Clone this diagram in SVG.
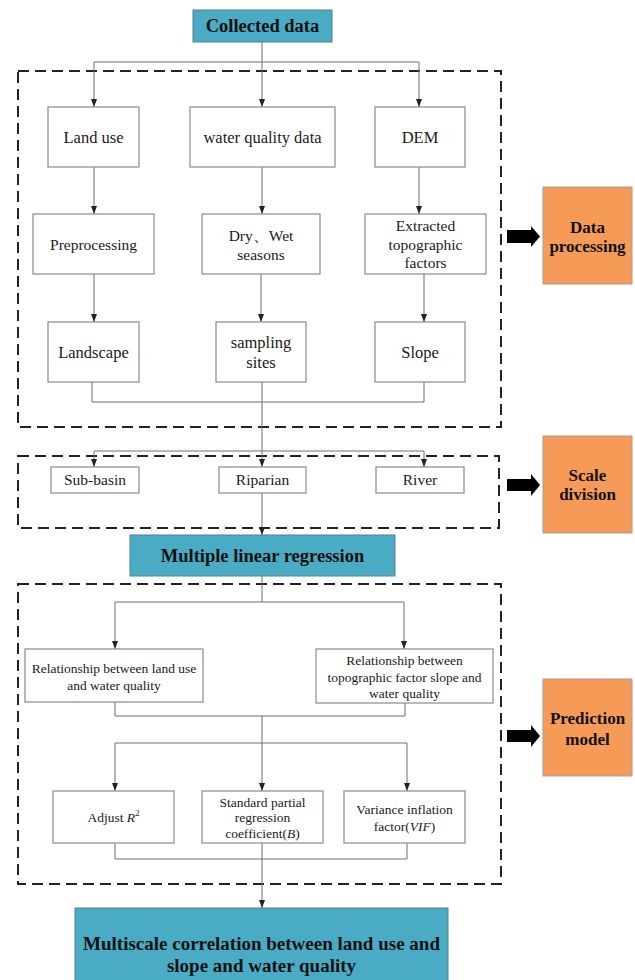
<svg xmlns="http://www.w3.org/2000/svg" width="635" height="980" viewBox="0 0 635 980">
<defs>
<marker id="ah" viewBox="0 0 8 6" refX="8" refY="3" markerWidth="8" markerHeight="6" markerUnits="userSpaceOnUse" orient="auto">
<path d="M0,0 L8,3 L0,6 z" fill="#222"/>
</marker>
<style>
.box{fill:#fff;stroke:#8a8a8a;stroke-width:1.2}
.teal{fill:#4aabc5;stroke:#5a7f8c;stroke-width:1}
.orange{fill:#f59b57;stroke:#a0a0a0;stroke-width:1}
.dash{fill:none;stroke:#222;stroke-width:2;stroke-dasharray:11,6}
.ln{fill:none;stroke:#6e6e6e;stroke-width:1}
.ar{marker-end:url(#ah)}
.t{font-family:"Liberation Serif","Times New Roman",serif;fill:#1a1a1a;text-anchor:middle}
.n16{font-size:16.5px}
.n15{font-size:15.5px}
.n13{font-size:13.5px}
.b{font-weight:bold;fill:#111}
.blk{fill:#000}
</style>
</defs>

<g id="dashed-frames">
<rect class="dash" x="18" y="71" width="483" height="356"/>
<rect class="dash" x="18" y="456" width="481" height="72"/>
<rect class="dash" x="18" y="584" width="483" height="300"/>
</g>

<g id="connectors">
<path class="ln" d="M262,42 V62 M94,62 H419"/>
<path class="ln ar" d="M94,62 V107"/>
<path class="ln ar" d="M262,62 V107"/>
<path class="ln ar" d="M419,62 V107"/>
<path class="ln ar" d="M94,167 V214"/>
<path class="ln ar" d="M262,167 V214"/>
<path class="ln ar" d="M419,167 V214"/>
<path class="ln ar" d="M94,274 V322"/>
<path class="ln ar" d="M261,274 V322"/>
<path class="ln ar" d="M424,274 V322"/>
<path class="ln" d="M92,382 V402 H424 V382"/>
<path class="ln" d="M262,382 V451 M94,451 H424"/>
<path class="ln ar" d="M94,451 V467"/>
<path class="ln ar" d="M262,451 V467"/>
<path class="ln ar" d="M424,451 V467"/>
<path class="ln ar" d="M262,493 V535"/>
<path class="ln" d="M262,576 V602 M115,602 H404"/>
<path class="ln ar" d="M115,602 V649"/>
<path class="ln ar" d="M404,602 V649"/>
<path class="ln" d="M115,702 V716 H405 V703"/>
<path class="ln" d="M262,716 V743 M115,743 H407"/>
<path class="ln ar" d="M115,743 V791"/>
<path class="ln ar" d="M262,743 V791"/>
<path class="ln ar" d="M407,743 V791"/>
<path class="ln" d="M115,843 V859 H407 V843"/>
<path class="ln ar" d="M262,843 V908"/>
</g>

<g id="collected-data">
<rect class="teal" x="193" y="10" width="139" height="32"/>
<text class="t b" x="262.5" y="32" font-size="18.5">Collected data</text>
</g>

<g id="land-use">
<rect class="box" x="48" y="107" width="91" height="60"/>
<text class="t n16" x="93.5" y="143">Land use</text>
</g>
<g id="water-quality-data">
<rect class="box" x="190" y="107" width="145" height="60"/>
<text class="t n16" x="262.5" y="143">water quality data</text>
</g>
<g id="dem">
<rect class="box" x="375" y="107" width="90" height="60"/>
<text class="t n16" x="420" y="143">DEM</text>
</g>

<g id="preprocessing">
<rect class="box" x="33" y="214" width="121" height="60"/>
<text class="t n15" x="93.5" y="250">Preprocessing</text>
</g>
<g id="dry-wet-seasons">
<rect class="box" x="202" y="214" width="118" height="60"/>
<text class="t n15" x="261" y="241">Dry、Wet</text>
<text class="t n15" x="261" y="260">seasons</text>
</g>
<g id="extracted-topographic-factors">
<rect class="box" x="365" y="214" width="121" height="60"/>
<text class="t n15" x="425.5" y="231">Extracted</text>
<text class="t n15" x="425.5" y="250">topographic</text>
<text class="t n15" x="425.5" y="268">factors</text>
</g>

<g id="landscape">
<rect class="box" x="48" y="322" width="91" height="60"/>
<text class="t n16" x="93.5" y="358">Landscape</text>
</g>
<g id="sampling-sites">
<rect class="box" x="216" y="322" width="90" height="60"/>
<text class="t n16" x="261" y="348">sampling</text>
<text class="t n16" x="261" y="368">sites</text>
</g>
<g id="slope">
<rect class="box" x="375" y="322" width="90" height="60"/>
<text class="t n16" x="420" y="358">Slope</text>
</g>

<g id="sub-basin">
<rect class="box" x="51" y="467" width="88" height="26"/>
<text class="t n15" x="95" y="485">Sub-basin</text>
</g>
<g id="riparian">
<rect class="box" x="219" y="467" width="87" height="26"/>
<text class="t n15" x="262.5" y="485">Riparian</text>
</g>
<g id="river">
<rect class="box" x="376" y="467" width="88" height="26"/>
<text class="t n15" x="420" y="485">River</text>
</g>

<g id="multiple-linear-regression">
<rect class="teal" x="130" y="535" width="265" height="41"/>
<text class="t b" x="262.5" y="562" font-size="18.5">Multiple linear regression</text>
</g>

<g id="relationship-land-use">
<rect class="box" x="25" y="649" width="178" height="53"/>
<text class="t n13" x="114" y="673">Relationship between land use</text>
<text class="t n13" x="114" y="690">and water quality</text>
</g>
<g id="relationship-slope">
<rect class="box" x="316" y="649" width="177" height="54"/>
<text class="t n13" x="404.5" y="665">Relationship between</text>
<text class="t n13" x="404.5" y="682">topographic factor slope and</text>
<text class="t n13" x="404.5" y="698">water quality</text>
</g>

<g id="adjust-r2">
<rect class="box" x="53" y="791" width="121" height="52"/>
<text class="t n13" x="113.5" y="822">Adjust <tspan font-style="italic">R</tspan><tspan font-size="9" dy="-6">2</tspan></text>
</g>
<g id="standard-partial-regression">
<rect class="box" x="202" y="791" width="121" height="52"/>
<text class="t n13" x="262.5" y="807">Standard partial</text>
<text class="t n13" x="262.5" y="822">regression</text>
<text class="t n13" x="262.5" y="838">coefficient(<tspan font-style="italic">B</tspan>)</text>
</g>
<g id="variance-inflation-factor">
<rect class="box" x="344" y="791" width="121" height="52"/>
<text class="t n13" x="404.5" y="814">Variance inflation</text>
<text class="t n13" x="404.5" y="831">factor(<tspan font-style="italic">VIF</tspan>)</text>
</g>

<g id="multiscale-correlation">
<rect class="teal" x="75" y="908" width="373" height="80"/>
<text class="t b" x="261.5" y="950" font-size="19">Multiscale correlation between land use and</text>
<text class="t b" x="261.5" y="972" font-size="19">slope and water quality</text>
</g>

<g id="data-processing">
<path class="blk" d="M507,230 H531 V226 L540,236.5 L531,247 V243 H507 z"/>
<rect class="orange" x="543" y="187" width="89" height="97"/>
<text class="t b" x="587.5" y="233" font-size="17">Data</text>
<text class="t b" x="587.5" y="252" font-size="17">processing</text>
</g>
<g id="scale-division">
<path class="blk" d="M507,479 H531 V474 L540,485 L531,496 V491 H507 z"/>
<rect class="orange" x="543" y="436" width="89" height="97"/>
<text class="t b" x="587.5" y="481" font-size="17">Scale</text>
<text class="t b" x="587.5" y="500" font-size="17">division</text>
</g>
<g id="prediction-model">
<path class="blk" d="M507,730 H531 V725 L540,736 L531,747 V742 H507 z"/>
<rect class="orange" x="543" y="679" width="89" height="97"/>
<text class="t b" x="587.5" y="724" font-size="17">Prediction</text>
<text class="t b" x="587.5" y="745" font-size="17">model</text>
</g>
</svg>
